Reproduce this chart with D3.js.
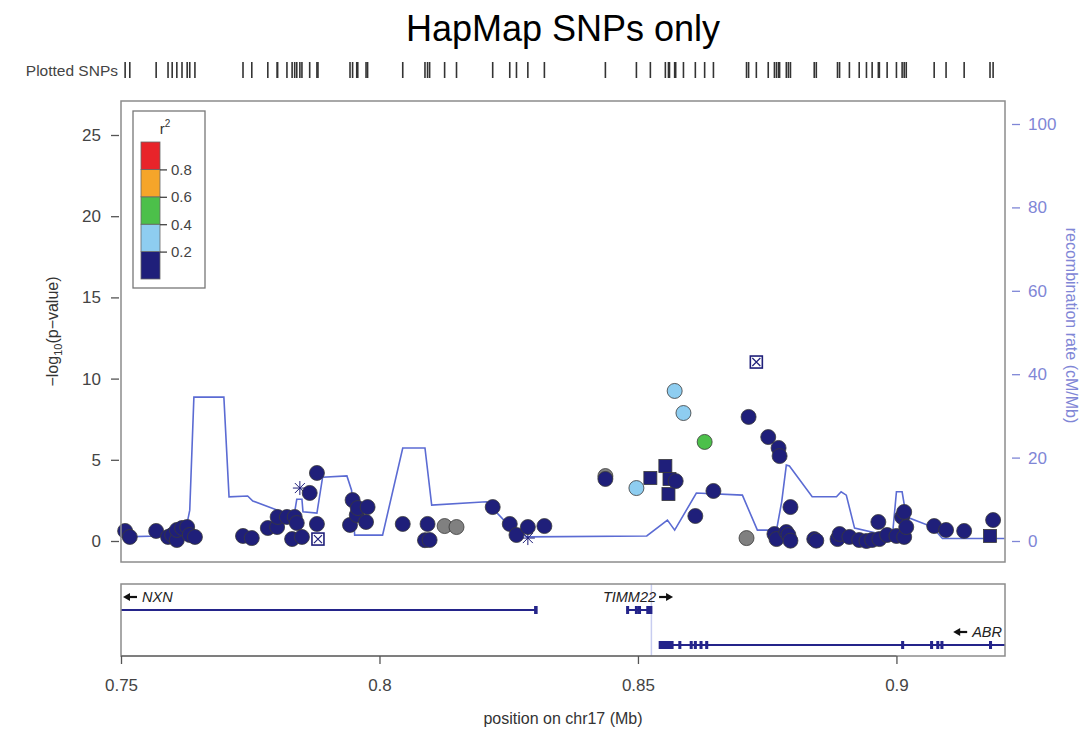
<!DOCTYPE html>
<html>
<head>
<meta charset="utf-8">
<script src="https://cdn.jsdelivr.net/npm/d3@7"></script>
<style>
  body { margin: 0; background: #fff; }
  text { font-family: "Liberation Sans", Arial, sans-serif; }
</style>
</head>
<body>
<div id="chart"></div>
<script>
// SNP data: position (Mb), -log10 p, r2 (null = no LD info), marker shape
const snpPos = [0.7508, 0.7517, 0.7568, 0.7591, 0.7599, 0.7608, 0.7608, 0.7618, 0.7628, 0.7633, 0.7643,
  0.7736, 0.7753, 0.7784, 0.7802, 0.7803, 0.7821, 0.7831, 0.7836, 0.7840, 0.7846, 0.7850, 0.7865, 0.7879,
  0.7879, 0.7881, 0.7943, 0.7948, 0.7956, 0.7958, 0.7974, 0.7977, 0.8045, 0.8088, 0.8093, 0.8097, 0.8126,
  0.8149, 0.8219, 0.8252, 0.8265, 0.8287, 0.8287, 0.8319, 0.8437, 0.8437, 0.8497, 0.8524, 0.8553, 0.8559,
  0.8561, 0.8573, 0.8571, 0.8588, 0.8611, 0.8629, 0.8646, 0.8710, 0.8714, 0.8729, 0.8752, 0.8764, 0.8768,
  0.8772, 0.8774, 0.8787, 0.8791, 0.8795, 0.8795, 0.8841, 0.8845, 0.8886, 0.8890, 0.8909, 0.8928, 0.8942,
  0.8953, 0.8965, 0.8967, 0.8982, 0.9000, 0.9011, 0.9015, 0.9015, 0.9019, 0.9073, 0.9096, 0.9131, 0.9181,
  0.9187];
const snpLogP = [0.62, 0.25, 0.62, 0.25, 0.37, 0.06, 0.68, 0.80, 0.86, 0.37, 0.25,
  0.31, 0.18, 0.80, 0.86, 1.48, 1.48, 0.12, 1.48, 1.11, 3.26, 0.25, 2.96, 4.19,
  1.05, 0.12, 0.99, 2.52, 1.60, 2.03, 1.17, 2.09, 1.05, 0.05, 1.05, 0.06, 0.92,
  0.86, 2.09, 1.05, 0.37, 0.18, 0.86, 0.92, 4.00, 3.82, 3.26, 3.88, 4.62, 2.89,
  3.82, 3.69, 9.24, 7.88, 1.54, 6.10, 3.08, 0.18, 7.64, 11.02, 6.40, 0.43, 0.12,
  5.73, 5.23, 0.55, 0.37, 2.09, 0.02, 0.12, 0.02, 0.12, 0.43, 0.25, 0.06, 0.00,
  0.06, 1.17, 0.12, 0.37, 0.31, 1.48, 1.79, 0.25, 0.86, 0.92, 0.68, 0.62, 0.31,
  1.29];
const snpR2 = [0.1, 0.1, 0.1, 0.1, 0.1, 0.1, 0.1, 0.1, 0.1, 0.1, 0.1,
  0.1, 0.1, 0.1, 0.1, 0.1, 0.1, 0.1, 0.1, 0.1, 0.1, 0.1, 0.1, 0.1,
  0.1, 0.1, 0.1, 0.1, 0.1, 0.1, 0.1, 0.1, 0.1, 0.1, 0.1, 0.1, null,
  null, 0.1, 0.1, 0.1, 0.1, 0.1, 0.1, null, 0.1, 0.3, 0.1, 0.1, 0.1,
  0.1, 0.1, 0.3, 0.3, 0.1, 0.5, 0.1, null, 0.1, 0.1, 0.1, 0.1, 0.1,
  0.1, 0.1, 0.1, 0.1, 0.1, 0.1, 0.1, 0.1, 0.1, 0.1, 0.1, 0.1, 0.1,
  0.1, 0.1, 0.1, 0.1, 0.1, 0.1, 0.1, 0.1, 0.1, 0.1, 0.1, 0.1, 0.1,
  0.1];
const snpShape = ["c", "c", "c", "c", "c", "c", "c", "c", "c", "c", "c",
  "c", "c", "c", "c", "c", "c", "c", "c", "c", "*", "c", "c", "c",
  "c", "x", "c", "c", "c", "c", "c", "c", "c", "c", "c", "c", "c",
  "c", "c", "c", "c", "*", "c", "c", "c", "c", "c", "s", "s", "s",
  "s", "c", "c", "c", "c", "c", "c", "c", "c", "x", "c", "c", "c",
  "c", "c", "c", "c", "c", "c", "c", "c", "c", "c", "c", "c", "c",
  "c", "c", "c", "c", "c", "c", "c", "c", "c", "c", "c", "c", "s",
  "c"];

// recombination rate (cM/Mb)
const recombPos = [0.7500, 0.7575, 0.7608, 0.7628, 0.7633, 0.7641, 0.7699, 0.7709, 0.7745, 0.7755,
  0.7813, 0.7836, 0.7840, 0.7850, 0.7852, 0.7879, 0.7890, 0.7937, 0.7946, 0.7952, 0.8006, 0.8045,
  0.8088, 0.8101, 0.8207, 0.8246, 0.8285, 0.8517, 0.8557, 0.8571, 0.8613, 0.8702, 0.8731, 0.8768,
  0.8778, 0.8787, 0.8793, 0.8837, 0.8884, 0.8893, 0.8903, 0.8919, 0.8992, 0.9000, 0.9011, 0.9019,
  0.9069, 0.9089, 0.9185, 0.9209];
const recombRate = [1.0, 1.2, 4.3, 4.3, 7.4, 34.5, 34.5, 10.6, 10.8, 9.6,
  6.9, 7.0, 10.0, 10.0, 7.0, 6.7, 15.3, 15.6, 12.2, 1.4, 1.4, 22.3,
  22.3, 8.6, 9.4, 4.3, 1.0, 1.2, 5.0, 2.6, 11.5, 11.0, 2.6, 2.6,
  9.4, 18.2, 18.0, 10.6, 10.6, 11.8, 11.0, 3.1, 1.0, 11.8, 11.8, 5.8,
  3.4, 0.6, 0.6, 0.6];

// genes
const geneNames = ["NXN", "TIMM22", "ABR"];
const geneStart = [0.60, 0.8478, 0.8542];
const geneEnd = [0.8304, 0.8526, 1.14];
const geneStrand = ["-", "+", "-"];
const geneRow = [0, 0, 1];
const geneExons = [
  [[0.8301, 0.8304]],
  [[0.8479, 0.8481], [0.8496, 0.8498], [0.8502, 0.8504], [0.8518, 0.8526]],
  [[0.8542, 0.8567], [0.8580, 0.8582], [0.8602, 0.8604], [0.8610, 0.8612], [0.8621, 0.8623],
   [0.8632, 0.8634], [0.9011, 0.9013], [0.9067, 0.9069], [0.9079, 0.9081], [0.9087, 0.9089],
   [0.9181, 0.9183]]
];
const highlightPos = 0.8526;

// legend
const r2Breaks = [0, 0.2, 0.4, 0.6, 0.8, 1];
const r2Colors = ["#1f1f7a", "#8ecdf0", "#4cc04a", "#f5a52a", "#e8242a"];
const r2Ticks = [0.2, 0.4, 0.6, 0.8];

const xTicks = [0.75, 0.8, 0.85, 0.9];
const yTicks = [0, 5, 10, 15, 20, 25];
const y2Ticks = [0, 20, 40, 60, 80, 100];

const W = 1084, H = 732;
const panel = { left: 121, right: 1005, top: 101, bottom: 562 };
const genePanel = { top: 584, bottom: 656 };
const axisGrey = "#444";
const recombCol = "#5b6bd3";
const recombAxisCol = "#7f86d6";

const svg = d3.select("#chart").append("svg")
  .attr("width", W).attr("height", H);

const x = d3.scaleLinear().domain([0.75, 0.921]).range([panel.left, panel.right]);
const y = d3.scaleLinear().domain([0, 25]).range([541, 135]);
const y2 = d3.scaleLinear().domain([0, 100]).range([541, 124]);
const color = d3.scaleThreshold().domain(r2Breaks.slice(1, -1)).range(r2Colors);

// Title
svg.append("text")
  .attr("x", 563).attr("y", 41)
  .attr("text-anchor", "middle")
  .attr("font-size", 36)
  .text("HapMap SNPs only");

// Plotted SNPs rug
svg.append("text")
  .attr("x", 118).attr("y", 76)
  .attr("text-anchor", "end")
  .attr("font-size", 15.5)
  .attr("fill", "#444")
  .text("Plotted SNPs");
svg.append("g").selectAll("line")
  .data(Array.from(new Set(snpPos)))
  .join("line")
  .attr("x1", d => x(d)).attr("x2", d => x(d))
  .attr("y1", 62).attr("y2", 78)
  .attr("stroke", "#333").attr("stroke-width", 1.6);

// clip for the main panel
svg.append("clipPath").attr("id", "clip")
  .append("rect")
  .attr("x", panel.left).attr("y", panel.top)
  .attr("width", panel.right - panel.left).attr("height", panel.bottom - panel.top);

// recombination line
const recomb = recombPos.map((p, i) => ({ pos: p, rate: recombRate[i] }));
svg.append("path")
  .datum(recomb)
  .attr("clip-path", "url(#clip)")
  .attr("fill", "none")
  .attr("stroke", recombCol)
  .attr("stroke-width", 1.6)
  .attr("d", d3.line().x(d => x(d.pos)).y(d => y2(d.rate)));

// SNP points, low LD drawn first
const snps = snpPos.map((p, i) => ({ pos: p, logp: snpLogP[i], r2: snpR2[i], shape: snpShape[i], i }))
  .sort((a, b) => ((a.r2 == null ? -1 : a.r2) - (b.r2 == null ? -1 : b.r2)) || (a.i - b.i));

const fillOf = d => d.r2 == null ? "#808080" : color(d.r2);
const pts = svg.append("g");
snps.forEach(d => {
  const cx = x(d.pos), cy = y(d.logp);
  if (d.shape === "c") {
    pts.append("circle").attr("cx", cx).attr("cy", cy).attr("r", 7.5)
      .attr("fill", fillOf(d)).attr("stroke", "#3a3a3a").attr("stroke-width", 0.8);
  } else if (d.shape === "s") {
    pts.append("rect").attr("x", cx - 6.5).attr("y", cy - 6.5).attr("width", 13).attr("height", 13)
      .attr("fill", fillOf(d)).attr("stroke", "#3a3a3a").attr("stroke-width", 0.8);
  } else if (d.shape === "x") {
    const g = pts.append("g").attr("transform", `translate(${cx},${cy})`);
    g.append("rect").attr("x", -6).attr("y", -6).attr("width", 12).attr("height", 12)
      .attr("fill", "#fff").attr("stroke", fillOf(d)).attr("stroke-width", 1.6);
    g.append("path").attr("d", "M-4,-4L4,4M-4,4L4,-4")
      .attr("stroke", fillOf(d)).attr("stroke-width", 1.2);
  } else {
    const g = pts.append("g").attr("transform", `translate(${cx},${cy})`);
    g.append("path").attr("d", "M-7,0L7,0M0,-7L0,7M-5,-5L5,5M-5,5L5,-5")
      .attr("stroke", fillOf(d)).attr("stroke-width", 1);
  }
});

// panel box
svg.append("rect")
  .attr("x", panel.left).attr("y", panel.top)
  .attr("width", panel.right - panel.left).attr("height", panel.bottom - panel.top)
  .attr("fill", "none").attr("stroke", "#8c8c8c").attr("stroke-width", 1.5);

// left axis
const yAxis = svg.append("g")
  .attr("transform", `translate(${panel.left - 2},0)`)
  .call(d3.axisLeft(y).tickValues(yTicks).tickSize(8).tickPadding(10));
yAxis.select(".domain").remove();
yAxis.selectAll("line").attr("stroke", "#555").attr("stroke-width", 1.3);
yAxis.selectAll("text").attr("font-size", 17).attr("fill", axisGrey)
  .style("font-family", '"Liberation Sans", Arial, sans-serif');

const yLab = svg.append("text")
  .attr("transform", `translate(58,${(panel.top + panel.bottom) / 2}) rotate(-90)`)
  .attr("text-anchor", "middle")
  .attr("font-size", 16)
  .attr("fill", "#333");
yLab.append("tspan").text("−log");
yLab.append("tspan").attr("font-size", 11).attr("dy", 4).text("10");
yLab.append("tspan").attr("dy", -4).text("(p−value)");

// right axis
const y2Axis = svg.append("g")
  .attr("transform", `translate(${panel.right + 7},0)`)
  .call(d3.axisRight(y2).tickValues(y2Ticks).tickSize(8).tickPadding(8));
y2Axis.select(".domain").remove();
y2Axis.selectAll("line").attr("stroke", recombAxisCol).attr("stroke-width", 1.3);
y2Axis.selectAll("text").attr("font-size", 17).attr("fill", recombAxisCol)
  .style("font-family", '"Liberation Sans", Arial, sans-serif');

svg.append("text")
  .attr("transform", `translate(1066,${(panel.top + panel.bottom) / 2 - 6}) rotate(90)`)
  .attr("text-anchor", "middle")
  .attr("font-size", 16)
  .attr("fill", recombAxisCol)
  .text("recombination rate (cM/Mb)");

// legend
const leg = svg.append("g");
leg.append("rect").attr("x", 133).attr("y", 111).attr("width", 72).attr("height", 177)
  .attr("fill", "#fff").attr("stroke", "#777").attr("stroke-width", 1.3);
const ly = d3.scaleLinear().domain([0, 1]).range([279, 142]);
leg.selectAll("rect.bin")
  .data(r2Colors)
  .join("rect").attr("class", "bin")
  .attr("x", 141).attr("width", 19)
  .attr("y", (d, i) => ly(r2Breaks[i + 1]))
  .attr("height", (d, i) => ly(r2Breaks[i]) - ly(r2Breaks[i + 1]))
  .attr("fill", d => d).attr("stroke", "#666").attr("stroke-width", 0.8);
const legAxis = leg.append("g")
  .attr("transform", "translate(160,0)")
  .call(d3.axisRight(ly).tickValues(r2Ticks).tickSize(7).tickPadding(4).tickFormat(d3.format(".1f")));
legAxis.select(".domain").remove();
legAxis.selectAll("line").attr("stroke", "#444").attr("stroke-width", 1.3);
legAxis.selectAll("text").attr("font-size", 15).attr("fill", axisGrey)
  .style("font-family", '"Liberation Sans", Arial, sans-serif');
const r2t = leg.append("text").attr("x", 165).attr("y", 134).attr("font-size", 15)
  .attr("fill", "#333").attr("text-anchor", "middle");
r2t.append("tspan").text("r");
r2t.append("tspan").attr("font-size", 10).attr("dy", -7).text("2");

// gene panel
const gp = svg.append("g");
gp.append("clipPath").attr("id", "gclip")
  .append("rect").attr("x", panel.left).attr("y", genePanel.top)
  .attr("width", panel.right - panel.left).attr("height", genePanel.bottom - genePanel.top);
gp.append("line")
  .attr("x1", x(highlightPos)).attr("x2", x(highlightPos))
  .attr("y1", genePanel.top).attr("y2", genePanel.bottom)
  .attr("stroke", "#c8cdf0").attr("stroke-width", 1.5);

const rowY = [610, 645];
const genes = geneNames.map((n, i) => ({
  name: n, start: geneStart[i], end: geneEnd[i], strand: geneStrand[i], row: geneRow[i], exons: geneExons[i]
}));
const gg = gp.append("g").attr("clip-path", "url(#gclip)");
genes.forEach(g => {
  const yy = rowY[g.row];
  gg.append("line").attr("x1", x(g.start)).attr("x2", x(g.end))
    .attr("y1", yy).attr("y2", yy)
    .attr("stroke", "#24248a").attr("stroke-width", 2);
  g.exons.forEach(e => {
    gg.append("rect").attr("x", x(e[0]) - 1).attr("width", Math.max(2.5, x(e[1]) - x(e[0]) + 2))
      .attr("y", yy - 4).attr("height", 8)
      .attr("fill", "#24248a");
  });
});
// gene labels with strand arrows, centred on the gene and kept inside the panel
const arrowLen = 14, arrowGap = 5;
genes.forEach(g => {
  const ly0 = rowY[g.row] - 8;
  const lab = gp.append("g");
  const t = lab.append("text")
    .attr("y", 0)
    .attr("font-size", 14.5).attr("font-style", "italic").attr("fill", "#222")
    .text(g.name);
  const tw = t.node().getComputedTextLength();
  const w = tw + arrowGap + arrowLen;
  const c = (x(g.start) + x(g.end)) / 2;
  const left = Math.max(panel.left + 2, Math.min(panel.right - 3 - w, c - w / 2));
  lab.attr("transform", `translate(${left},${ly0})`);
  const ay = -5;
  if (g.strand === "+") {
    t.attr("x", 0);
    const a0 = tw + arrowGap - 2;
    lab.append("path").attr("d", `M${a0},${ay}H${a0 + arrowLen - 6}`)
      .attr("stroke", "#111").attr("stroke-width", 2.2);
    lab.append("path").attr("d", `M${a0 + arrowLen},${ay}L${a0 + arrowLen - 7},${ay - 4}L${a0 + arrowLen - 7},${ay + 4}Z`)
      .attr("fill", "#111");
  } else {
    t.attr("x", arrowLen + arrowGap);
    lab.append("path").attr("d", `M6,${ay}H${arrowLen}`)
      .attr("stroke", "#111").attr("stroke-width", 2.2);
    lab.append("path").attr("d", `M0,${ay}L7,${ay - 4}L7,${ay + 4}Z`)
      .attr("fill", "#111");
  }
});
gp.append("rect")
  .attr("x", panel.left).attr("y", genePanel.top)
  .attr("width", panel.right - panel.left).attr("height", genePanel.bottom - genePanel.top)
  .attr("fill", "none").attr("stroke", "#8c8c8c").attr("stroke-width", 1.5);

// x axis
const xAxis = svg.append("g")
  .attr("transform", `translate(0,${genePanel.bottom})`)
  .call(d3.axisBottom(x).tickValues(xTicks).tickSize(8).tickPadding(15).tickFormat(d => String(d)));
xAxis.select(".domain").attr("d", `M${x(xTicks[0])},0H${x(xTicks[xTicks.length - 1])}`)
  .attr("stroke", "#555");
xAxis.selectAll("line").attr("stroke", "#555").attr("stroke-width", 1.3);
xAxis.selectAll("text").attr("font-size", 17).attr("fill", axisGrey)
  .style("font-family", '"Liberation Sans", Arial, sans-serif');

svg.append("text")
  .attr("x", 563).attr("y", 724)
  .attr("text-anchor", "middle")
  .attr("font-size", 16)
  .attr("fill", "#333")
  .text("position on chr17 (Mb)");
</script>
</body>
</html>
